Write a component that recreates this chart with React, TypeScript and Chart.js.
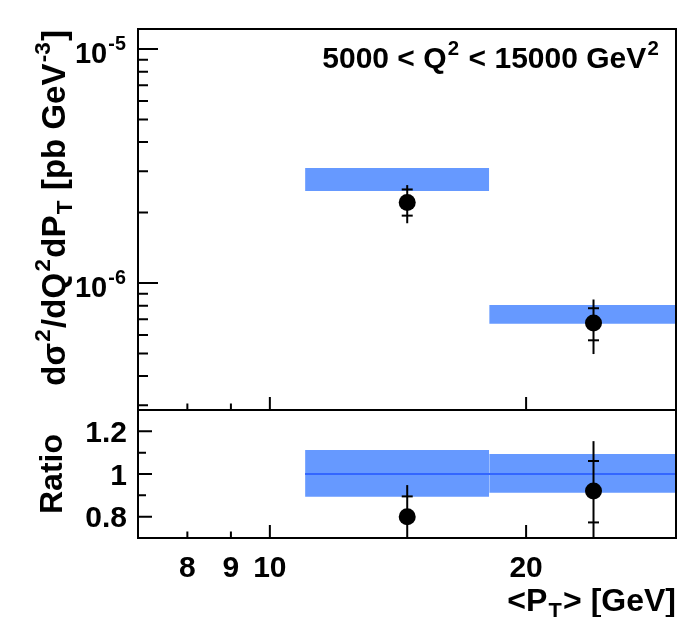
import React, { useEffect, useRef } from "react";
import { Chart, registerables } from "chart.js";

Chart.register(...registerables);

const FONT = '"Liberation Sans", Arial, Helvetica, sans-serif';
const W = 678;
const H = 617;
const BAND = "#6699ff";
const LINE_BLUE = "#3366ff";

// ---- data ----
const binLow = [11, 18.1];
const binHigh = [18.1, 30];
const ptMean = [14.5, 24.0];

const xsec = [2.21e-6, 6.75e-7];
const xsecStatLow = [1.94e-6, 5.69e-7];
const xsecStatHigh = [2.51e-6, 7.8e-7];
const xsecTotLow = [1.8e-6, 4.97e-7];
const xsecTotHigh = [2.62e-6, 8.5e-7];
const predLow = [2.47e-6, 6.7e-7];
const predHigh = [3.1e-6, 8.05e-7];

const ratio = [0.8, 0.92];
const ratioStatLow = [0.7, 0.773];
const ratioStatHigh = [0.895, 1.061];
const ratioTotLow = [0.652, 0.686];
const ratioTotHigh = [0.948, 1.154];
const ratioPredLow = [0.893, 0.912];
const ratioPredHigh = [1.113, 1.094];
const ratioRef = [1, 1];

const xMin = 7;
const xMax = 30;
const xTicksMajor = [10, 20];
const xTicksMinor = [8, 9];
const xTickLabelValues = [8, 9, 10, 20];
const xTickLabels = ["8", "9", "10", "20"];

const topYMin = 2.866e-7;
const topYMax = 1.217e-5;
const topYMajor = [1e-6, 1e-5];
const topYExp = ["-6", "-5"];
const topYMinor = [3e-7, 4e-7, 5e-7, 6e-7, 7e-7, 8e-7, 9e-7, 2e-6, 3e-6, 4e-6, 5e-6, 6e-6, 7e-6, 8e-6, 9e-6];

const botYMin = 0.7;
const botYMax = 1.3;
const botYMajor = [0.8, 1.0, 1.2];
const botYLabels = ["0.8", "1", "1.2"];
const botYMinor = [0.9, 1.1];

// ---- rich text helper ----
type Seg = { t: string; s?: "sup" | "sub" };

function segFont(size: number, seg: Seg) {
  const sz = seg.s ? size * 0.68 : size;
  return `bold ${sz}px ${FONT}`;
}
function richWidth(ctx: CanvasRenderingContext2D, segs: Seg[], size: number) {
  let w = 0;
  for (const s of segs) {
    ctx.font = segFont(size, s);
    w += ctx.measureText(s.t).width + (s.s ? size * 0.08 : 0);
  }
  return w;
}
function drawRich(
  ctx: CanvasRenderingContext2D,
  segs: Seg[],
  x: number,
  y: number,
  size: number,
  align: "left" | "right" | "center"
) {
  const w = richWidth(ctx, segs, size);
  let cx = align === "right" ? x - w : align === "center" ? x - w / 2 : x;
  ctx.textAlign = "left";
  ctx.textBaseline = "alphabetic";
  for (const s of segs) {
    ctx.font = segFont(size, s);
    const dy = s.s === "sup" ? -size * 0.45 : s.s === "sub" ? size * 0.22 : 0;
    const pad = s.s ? size * 0.08 : 0;
    ctx.fillText(s.t, cx + pad / 2, y + dy);
    cx += ctx.measureText(s.t).width + pad;
  }
}

function pts(xs: number[], ys: number[]) {
  return xs.map((x, i) => ({ x, y: ys[i] }));
}

function buildDatasets(
  yv: number[],
  sLo: number[],
  sHi: number[],
  tLo: number[],
  tHi: number[],
  bLo: number[],
  bHi: number[],
  refLine: number[] | null
) {
  const ds: any[] = [];
  // markers (drawn last => on top)
  ds.push({
    data: pts(ptMean, yv),
    showLine: false,
    pointRadius: 8.5,
    pointBackgroundColor: "#000",
    pointBorderColor: "#000",
    pointBorderWidth: 0,
    borderColor: "transparent",
  });
  // stat caps
  ds.push({
    data: [...pts(ptMean, sLo), ...pts(ptMean, sHi)],
    showLine: false,
    pointStyle: "line",
    pointRadius: 5.5,
    pointBorderColor: "#000",
    pointBorderWidth: 2,
    borderColor: "transparent",
  });
  // total error lines
  ptMean.forEach((x, i) => {
    ds.push({
      data: [
        { x, y: tLo[i] },
        { x, y: tHi[i] },
      ],
      borderColor: "#000",
      borderWidth: 2,
      pointRadius: 0,
      fill: false,
    });
  });
  // reference line
  if (refLine) {
    ds.push({
      data: [
        { x: binLow[0], y: refLine[0] },
        { x: binHigh[binHigh.length - 1], y: refLine[1] },
      ],
      borderColor: LINE_BLUE,
      borderWidth: 2,
      pointRadius: 0,
      fill: false,
    });
  }
  // prediction bands
  binLow.forEach((lo, i) => {
    ds.push({
      data: [
        { x: lo, y: bHi[i] },
        { x: binHigh[i], y: bHi[i] },
      ],
      borderColor: "transparent",
      borderWidth: 1,
      pointRadius: 0,
      fill: false,
    });
    ds.push({
      data: [
        { x: lo, y: bLo[i] },
        { x: binHigh[i], y: bLo[i] },
      ],
      borderColor: "transparent",
      borderWidth: 1,
      pointRadius: 0,
      fill: "-1",
      backgroundColor: BAND,
    });
  });
  return ds;
}

function drawXTicks(ctx: CanvasRenderingContext2D, chart: any) {
  const xs = chart.scales.x;
  const { bottom } = chart.chartArea;
  for (const v of xTicksMajor) {
    const x = xs.getPixelForValue(v);
    ctx.moveTo(x, bottom);
    ctx.lineTo(x, bottom - 13);
  }
  for (const v of xTicksMinor) {
    const x = xs.getPixelForValue(v);
    ctx.moveTo(x, bottom);
    ctx.lineTo(x, bottom - 6.5);
  }
}

const topDecor = {
  id: "topDecor",
  afterDraw(chart: any) {
    const ctx: CanvasRenderingContext2D = chart.ctx;
    const { left, right, top, bottom } = chart.chartArea;
    const ys = chart.scales.y;
    ctx.save();
    ctx.strokeStyle = "#000";
    ctx.fillStyle = "#000";
    ctx.lineWidth = 2;
    ctx.strokeRect(left, top, right - left, bottom - top);
    ctx.beginPath();
    for (const v of topYMajor) {
      const y = ys.getPixelForValue(v);
      ctx.moveTo(left, y);
      ctx.lineTo(left + 20, y);
    }
    for (const v of topYMinor) {
      const y = ys.getPixelForValue(v);
      ctx.moveTo(left, y);
      ctx.lineTo(left + 10, y);
    }
    drawXTicks(ctx, chart);
    ctx.stroke();

    topYMajor.forEach((v, i) => {
      const y = ys.getPixelForValue(v);
      drawRich(ctx, [{ t: "10" }, { t: topYExp[i], s: "sup" }], 127, y + 14, 29, "right");
    });

    drawRich(
      ctx,
      [{ t: "5000 < Q" }, { t: "2", s: "sup" }, { t: " < 15000 GeV" }, { t: "2", s: "sup" }],
      660,
      68,
      30,
      "right"
    );

    ctx.save();
    ctx.translate(65, 30);
    ctx.rotate(-Math.PI / 2);
    drawRich(
      ctx,
      [
        { t: "dσ" },
        { t: "2", s: "sup" },
        { t: "/dQ" },
        { t: "2", s: "sup" },
        { t: "dP" },
        { t: "T", s: "sub" },
        { t: " [pb GeV" },
        { t: "-3", s: "sup" },
        { t: "]" },
      ],
      0,
      0,
      33,
      "right"
    );
    ctx.restore();
    ctx.restore();
  },
};

const botDecor = {
  id: "botDecor",
  afterDraw(chart: any) {
    const ctx: CanvasRenderingContext2D = chart.ctx;
    const { left, right, top, bottom } = chart.chartArea;
    const ys = chart.scales.y;
    const xs = chart.scales.x;
    ctx.save();
    ctx.strokeStyle = "#000";
    ctx.fillStyle = "#000";
    ctx.lineWidth = 2;
    ctx.strokeRect(left, top, right - left, bottom - top);
    ctx.beginPath();
    for (const v of botYMajor) {
      const y = ys.getPixelForValue(v);
      ctx.moveTo(left, y);
      ctx.lineTo(left + 14, y);
    }
    for (const v of botYMinor) {
      const y = ys.getPixelForValue(v);
      ctx.moveTo(left, y);
      ctx.lineTo(left + 8, y);
    }
    drawXTicks(ctx, chart);
    ctx.stroke();

    botYMajor.forEach((v, i) => {
      const y = ys.getPixelForValue(v);
      drawRich(ctx, [{ t: botYLabels[i] }], 127, y + 10.5, 30, "right");
    });
    xTickLabelValues.forEach((v, i) => {
      const x = xs.getPixelForValue(v);
      drawRich(ctx, [{ t: xTickLabels[i] }], x, 577, 30, "center");
    });
    drawRich(ctx, [{ t: "<P" }, { t: "T", s: "sub" }, { t: "> [GeV]" }], 676, 611, 32, "right");

    ctx.save();
    ctx.translate(62, (top + bottom) / 2);
    ctx.rotate(-Math.PI / 2);
    drawRich(ctx, [{ t: "Ratio" }], 0, 0, 32, "center");
    ctx.restore();
    ctx.restore();
  },
};

function baseOptions(yType: string, yMin: number, yMax: number, padding: any) {
  return {
    responsive: false,
    animation: false as const,
    events: [] as any[],
    layout: { padding, autoPadding: false },
    plugins: { legend: { display: false }, tooltip: { enabled: false } },
    scales: {
      x: { type: "logarithmic", min: xMin, max: xMax, bounds: "data", display: false },
      y: { type: yType, min: yMin, max: yMax, bounds: "data", display: false },
    },
  } as any;
}

export default function App() {
  const topRef = useRef<HTMLCanvasElement>(null);
  const botRef = useRef<HTMLCanvasElement>(null);

  useEffect(() => {
    const top = new Chart(topRef.current as HTMLCanvasElement, {
      type: "line",
      data: {
        datasets: buildDatasets(
          xsec,
          xsecStatLow,
          xsecStatHigh,
          xsecTotLow,
          xsecTotHigh,
          predLow,
          predHigh,
          null
        ),
      },
      options: baseOptions("logarithmic", topYMin, topYMax, {
        left: 138,
        top: 29,
        right: W - 676,
        bottom: H - 410,
      }),
      plugins: [topDecor],
    } as any);
    const bot = new Chart(botRef.current as HTMLCanvasElement, {
      type: "line",
      data: {
        datasets: buildDatasets(
          ratio,
          ratioStatLow,
          ratioStatHigh,
          ratioTotLow,
          ratioTotHigh,
          ratioPredLow,
          ratioPredHigh,
          ratioRef
        ),
      },
      options: baseOptions("linear", botYMin, botYMax, {
        left: 138,
        top: 410,
        right: W - 676,
        bottom: H - 538,
      }),
      plugins: [botDecor],
    } as any);
    return () => {
      top.destroy();
      bot.destroy();
    };
  }, []);

  const cs: React.CSSProperties = { position: "absolute", left: 0, top: 0, width: W, height: H };
  return (
    <div style={{ position: "absolute", left: 0, top: 0, width: W, height: H, background: "#fff" }}>
      <canvas ref={botRef} width={W} height={H} style={cs} />
      <canvas ref={topRef} width={W} height={H} style={cs} />
    </div>
  );
}
